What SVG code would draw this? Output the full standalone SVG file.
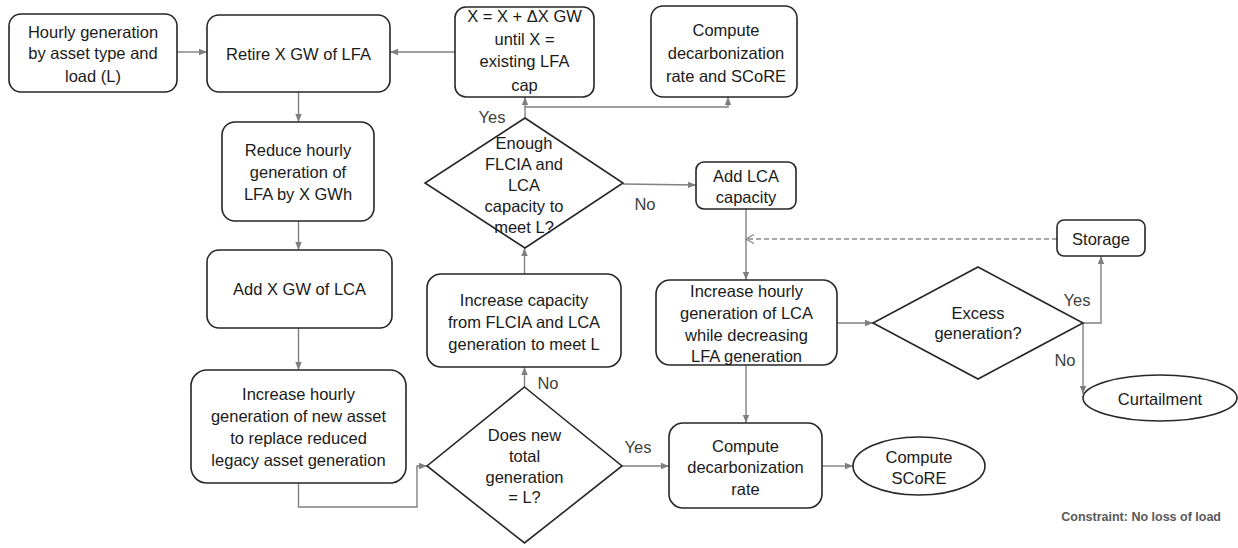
<svg xmlns="http://www.w3.org/2000/svg" width="1238" height="548" viewBox="0 0 1238 548">
<defs>
<marker id="ah" viewBox="0 0 10 10" refX="10" refY="5" markerWidth="8" markerHeight="8" markerUnits="userSpaceOnUse" orient="auto"><path d="M0,1 L10,5 L0,9 z" fill="#7f7f7f"/></marker>
<marker id="oh" viewBox="0 0 10 10" refX="9" refY="5" markerWidth="10" markerHeight="10" markerUnits="userSpaceOnUse" orient="auto"><path d="M1,0.5 L9,5 L1,9.5" fill="none" stroke="#8a8a8a" stroke-width="1.2"/></marker>
<style>
.box{fill:#fff;stroke:#262626;stroke-width:1.6}
.t{font-family:"Liberation Sans",Arial,sans-serif;font-size:16.5px;fill:#1a1a1a;text-anchor:middle;dominant-baseline:central}
.c{fill:none;stroke:#808080;stroke-width:1.4}
.d{fill:none;stroke:#8a8a8a;stroke-width:1.4;stroke-dasharray:5 3}
.lbl{font-family:"Liberation Sans",Arial,sans-serif;font-size:16.5px;fill:#404040;text-anchor:middle;dominant-baseline:central}
.note{font-family:"Liberation Sans",Arial,sans-serif;font-size:12.5px;font-weight:bold;fill:#595959;text-anchor:end;dominant-baseline:central}
</style>
</defs>
<rect width="1238" height="548" fill="#fff"/>

<g id="connectors">
<path class="c" d="M177,52 H207" marker-end="url(#ah)"/>
<path class="c" d="M455,52 H390" marker-end="url(#ah)"/>
<path class="c" d="M298.5,92 V122" marker-end="url(#ah)"/>
<path class="c" d="M298.5,221 V250" marker-end="url(#ah)"/>
<path class="c" d="M298.5,328 V370" marker-end="url(#ah)"/>
<path class="c" d="M298.5,483 V507 H417 V466 H427" marker-end="url(#ah)"/>
<path class="c" d="M524.5,387 V367" marker-end="url(#ah)"/>
<path class="c" d="M524.5,274 V248" marker-end="url(#ah)"/>
<path class="c" d="M525,118 V97" marker-end="url(#ah)"/>
<path class="c" d="M525,107 H728 V97" marker-end="url(#ah)"/>
<path class="c" d="M623,184 L696,185" marker-end="url(#ah)"/>
<path class="c" d="M746,209 V280" marker-end="url(#ah)"/>
<path class="d" d="M1057,239 H746" marker-end="url(#oh)"/>
<path class="c" d="M837,323 H873" marker-end="url(#ah)"/>
<path class="c" d="M1083,323 H1101 V256" marker-end="url(#ah)"/>
<path class="c" d="M1083,323 V394" marker-end="url(#ah)"/>
<path class="c" d="M746,365 V423" marker-end="url(#ah)"/>
<path class="c" d="M622,466 H669" marker-end="url(#ah)"/>
<path class="c" d="M822,466 H853" marker-end="url(#ah)"/>
<text class="lbl" x="492" y="117">Yes</text>
<text class="lbl" x="645" y="204">No</text>
<text class="lbl" x="548" y="383">No</text>
<text class="lbl" x="638" y="447">Yes</text>
<text class="lbl" x="1077" y="300">Yes</text>
<text class="lbl" x="1065" y="360">No</text>
</g>

<g id="n-input">
<rect class="box" x="9" y="14" width="168" height="78" rx="12"/>
<text class="t" x="93" y="32">Hourly generation</text>
<text class="t" x="93" y="53">by asset type and</text>
<text class="t" x="93" y="76">load (L)</text>
</g>
<g id="n-retire">
<rect class="box" x="207" y="15" width="183" height="77" rx="12"/>
<text class="t" x="298.5" y="54">Retire X GW of LFA</text>
</g>
<g id="n-increment">
<rect class="box" x="455" y="7" width="139" height="90" rx="11"/>
<text class="t" x="524.5" y="16">X = X + ΔX GW</text>
<text class="t" x="524.5" y="39">until X =</text>
<text class="t" x="524.5" y="61">existing LFA</text>
<text class="t" x="524.5" y="85">cap</text>
</g>
<g id="n-compute-top">
<rect class="box" x="651" y="6" width="146" height="91" rx="12"/>
<text class="t" x="726" y="30">Compute</text>
<text class="t" x="726" y="53">decarbonization</text>
<text class="t" x="726" y="76">rate and SCoRE</text>
</g>
<g id="n-reduce">
<rect class="box" x="222" y="122" width="152" height="99" rx="13"/>
<text class="t" x="298" y="150">Reduce hourly</text>
<text class="t" x="298" y="172">generation of</text>
<text class="t" x="298" y="194">LFA by X GWh</text>
</g>
<g id="n-add-lca">
<rect class="box" x="207" y="250" width="185" height="78" rx="12"/>
<text class="t" x="299.5" y="289">Add X GW of LCA</text>
</g>
<g id="n-increase-new">
<rect class="box" x="191" y="370" width="215" height="113" rx="16"/>
<text class="t" x="298.5" y="394">Increase hourly</text>
<text class="t" x="298.5" y="416">generation of new asset</text>
<text class="t" x="298.5" y="438">to replace reduced</text>
<text class="t" x="298.5" y="460">legacy asset generation</text>
</g>
<g id="n-enough">
<polygon class="box" points="525,118 623,183 525,248 425,183"/>
<text class="t" x="524" y="143">Enough</text>
<text class="t" x="524" y="164">FLCIA and</text>
<text class="t" x="524" y="185">LCA</text>
<text class="t" x="524" y="206">capacity to</text>
<text class="t" x="524" y="227">meet L?</text>
</g>
<g id="n-increase-cap">
<rect class="box" x="427" y="274" width="194" height="93" rx="14"/>
<text class="t" x="524" y="300">Increase capacity</text>
<text class="t" x="524" y="322">from FLCIA and LCA</text>
<text class="t" x="524" y="344">generation to meet L</text>
</g>
<g id="n-does">
<polygon class="box" points="524.5,387 622,466 524.5,543 427,466"/>
<text class="t" x="524.5" y="435">Does new</text>
<text class="t" x="524.5" y="456">total</text>
<text class="t" x="524.5" y="477">generation</text>
<text class="t" x="524.5" y="497">= L?</text>
</g>
<g id="n-add-lca-cap">
<rect class="box" x="696" y="162" width="100" height="47" rx="8"/>
<text class="t" x="746" y="176">Add LCA</text>
<text class="t" x="746" y="197">capacity</text>
</g>
<g id="n-storage">
<rect class="box" x="1057" y="220" width="88" height="36" rx="7"/>
<text class="t" x="1101" y="239">Storage</text>
</g>
<g id="n-increase-lca">
<rect class="box" x="656" y="280" width="181" height="85" rx="14"/>
<text class="t" x="746.5" y="291">Increase hourly</text>
<text class="t" x="746.5" y="313">generation of LCA</text>
<text class="t" x="746.5" y="335">while decreasing</text>
<text class="t" x="746.5" y="356">LFA generation</text>
</g>
<g id="n-excess">
<polygon class="box" points="978,267 1083,323 978,379 873,323"/>
<text class="t" x="978" y="313">Excess</text>
<text class="t" x="978" y="333">generation?</text>
</g>
<g id="n-curtailment">
<ellipse class="box" cx="1160" cy="398" rx="77" ry="23"/>
<text class="t" x="1160" y="399">Curtailment</text>
</g>
<g id="n-compute-rate">
<rect class="box" x="669" y="423" width="153" height="85" rx="14"/>
<text class="t" x="745.5" y="446">Compute</text>
<text class="t" x="745.5" y="467">decarbonization</text>
<text class="t" x="745.5" y="489">rate</text>
</g>
<g id="n-compute-score">
<ellipse class="box" cx="919" cy="466" rx="66" ry="29"/>
<text class="t" x="919" y="457">Compute</text>
<text class="t" x="919" y="478">SCoRE</text>
</g>
<text class="note" x="1221" y="517">Constraint: No loss of load</text>
</svg>
